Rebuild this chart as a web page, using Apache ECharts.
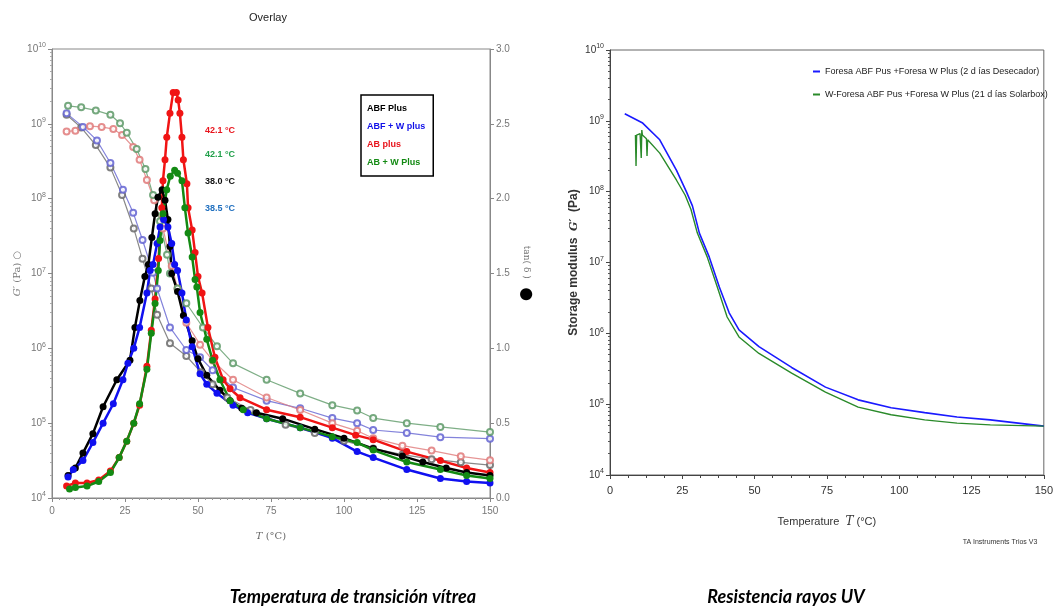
<!DOCTYPE html>
<html>
<head>
<meta charset="utf-8">
<script src="https://cdn.jsdelivr.net/npm/echarts@6/dist/echarts.min.js"></script>
<style>
  html, body { margin: 0; padding: 0; background: #fff; }
  #chart { width: 1056px; height: 609px; }
</style>
</head>
<body>
<div id="chart"></div>
<script>
// ---- left panel (Overlay): storage modulus G' [T, Pa], open circles ----
const abfStorage = [[5,1.32e9],[10,8.9e8],[15,5.2e8],[20,2.6e8],[24,1.12e8],[28,4.0e7],[31,1.58e7],[34,6.3e6],[36,2.8e6],[40.4,1.17e6],[46,7.9e5],[51,4.8e5],[55,3.3e5],[60,2.2e5],[68,1.5e5],[80,9.5e4],[90,7.4e4],[100,5.8e4],[110,4.6e4],[120,3.8e4],[130,3.3e4],[140,3.0e4],[150,2.75e4]];
const abfwStorage = [[5,1.38e9],[10.6,9.1e8],[15.4,6.0e8],[20,3.0e8],[24.3,1.32e8],[27.8,6.5e7],[31,2.8e7],[34.6,1.02e7],[36,6.3e6],[40.4,1.9e6],[46,9.5e5],[50.7,7.6e5],[55,5.1e5],[62,3.0e5],[73.5,2.0e5],[85,1.58e5],[96,1.17e5],[104.5,1.0e5],[110,8.1e4],[121.5,7.4e4],[133,6.5e4],[150,6.2e4]];
const abStorage = [[5,7.9e8],[8,8.1e8],[13,9.3e8],[17,9.1e8],[21,8.5e8],[24,7.1e8],[27.8,4.9e8],[30,3.3e8],[32.5,1.78e8],[35,9.5e7],[38,4.0e7],[41,1.26e7],[43,6.3e6],[46,2.2e6],[50.7,1.12e6],[55,6.9e5],[62,3.8e5],[73.5,2.2e5],[85,1.5e5],[96,1.0e5],[104.5,7.9e4],[110,6.3e4],[120,5.0e4],[130,4.3e4],[140,3.6e4],[150,3.2e4]];
const abwStorage = [[5.5,1.74e9],[10,1.66e9],[15,1.51e9],[20,1.32e9],[23.3,1.02e9],[25.6,7.6e8],[29,4.6e8],[32,2.5e8],[34.6,1.12e8],[37,5.0e7],[39.4,1.78e7],[40.4,1.0e7],[43,6.3e6],[46,4.0e6],[51.7,1.9e6],[56.5,1.07e6],[62,6.3e5],[73.5,3.8e5],[85,2.5e5],[96,1.74e5],[104.5,1.48e5],[110,1.17e5],[121.5,1.0e5],[133,8.9e4],[150,7.6e4]];

// ---- left panel: tan(delta) [T, value], filled circles ----
const abfTan = [[5.5,0.15],[8,0.2],[10.6,0.3],[14,0.43],[17.5,0.61],[22.2,0.79],[26.7,0.92],[28.4,1.14],[30.1,1.32],[31.8,1.48],[33,1.56],[34.2,1.74],[35.3,1.9],[36.3,2.01],[37.7,2.06],[38.7,1.99],[39.7,1.86],[40.4,1.68],[41,1.5],[43,1.38],[45,1.22],[48,1.05],[50,0.93],[53,0.82],[57.5,0.72],[61,0.65],[65,0.6],[70,0.57],[79,0.53],[90,0.46],[100,0.4],[110,0.33],[120,0.28],[127,0.24],[135,0.2],[142,0.17],[150,0.15]];
const abfwTan = [[5.5,0.14],[7.3,0.19],[10.6,0.25],[14,0.37],[17.5,0.5],[21,0.63],[24.3,0.79],[26,0.9],[28,1.0],[30,1.14],[32.5,1.37],[33.6,1.52],[34.6,1.56],[36,1.7],[37,1.81],[38.2,1.86],[39.7,1.81],[41,1.7],[42,1.56],[43,1.52],[44.5,1.37],[46,1.19],[48,1.01],[50.7,0.83],[53,0.76],[56.5,0.7],[62,0.62],[67,0.57],[73.5,0.53],[85,0.47],[96,0.4],[104.5,0.31],[110,0.27],[121.5,0.19],[133,0.13],[142,0.11],[150,0.1]];
const abTan = [[5,0.08],[8,0.1],[12,0.1],[16,0.12],[20,0.18],[23,0.27],[25.6,0.38],[28,0.5],[30,0.62],[32.5,0.88],[34,1.12],[35.3,1.33],[36.5,1.6],[37.6,1.94],[38,2.12],[38.7,2.26],[39.3,2.41],[40.4,2.57],[41.5,2.71],[42.6,2.71],[43.2,2.66],[43.8,2.57],[44.5,2.41],[45,2.26],[46.2,2.1],[46.6,1.94],[48,1.79],[49,1.64],[50,1.48],[51.4,1.37],[53.4,1.14],[55.8,0.94],[58.6,0.79],[61,0.73],[64.4,0.67],[73.5,0.59],[85,0.54],[96,0.47],[104,0.42],[110,0.39],[121.5,0.31],[133,0.25],[142,0.2],[150,0.17]];
const abwTan = [[6,0.06],[8,0.07],[12,0.08],[16,0.11],[20,0.17],[23,0.27],[25.6,0.38],[28,0.5],[30,0.63],[32.5,0.86],[34,1.1],[35.3,1.3],[36.4,1.52],[37,1.72],[38,1.9],[39.3,2.06],[40.5,2.15],[42,2.19],[43,2.17],[44.5,2.12],[45.5,1.94],[46.6,1.77],[48,1.61],[49,1.46],[49.6,1.41],[50.7,1.24],[53,1.06],[55,0.92],[57.5,0.79],[61,0.65],[65.5,0.59],[73.5,0.53],[85,0.47],[96,0.41],[104.5,0.37],[110,0.32],[121.5,0.24],[133,0.19],[142,0.15],[150,0.13]];

// peak labels
const peakLabels = ['42.1 °C', '42.1 °C', '38.0 °C', '38.5 °C'];

// ---- right panel (UV): storage modulus [T, Pa] ----
const desecador = [[5.1,1.26e9],[11.3,9.3e8],[17.2,5.4e8],[23,2.0e8],[26.4,1.0e8],[28.5,6.3e7],[30.9,2.6e7],[34.3,1.2e7],[37.8,4.5e6],[41.2,1.95e6],[44.6,1.12e6],[51.5,6.5e5],[62.8,3.3e5],[74.5,1.74e5],[85.8,1.15e5],[97.2,8.9e4],[108.8,7.6e4],[120,6.6e4],[131.5,6.0e4],[150,4.9e4]];
const solarbox = [[8.8,6.3e8],[9.0,2.3e8],[9.2,6.3e8],[10.4,6.6e8],[10.8,3.0e8],[11.0,7.4e8],[11.2,6.3e8],[12.6,5.6e8],[12.8,3.2e8],[13.0,5.4e8],[17.2,3.5e8],[23,1.45e8],[26,8.9e7],[28,5.6e7],[30.2,2.6e7],[33.6,1.2e7],[37.1,4.5e6],[40.5,1.7e6],[44.6,8.9e5],[51.5,5.2e5],[62.8,2.75e5],[74.5,1.48e5],[85.8,9.1e4],[97.2,7.1e4],[108.8,6.0e4],[120,5.4e4],[131.5,5.1e4],[150,4.9e4]];

const sans = "'Liberation Sans', Arial, sans-serif";

const powLabel = v => '{b|10}{s|' + Math.round(Math.log10(v)) + '}';
const powRich = (c, size) => ({
  b: { fontSize: size, color: c, lineHeight: 14, fontFamily: sans },
  s: { fontSize: 7, color: c, lineHeight: 7, verticalAlign: 'top', fontFamily: sans }
});

const openSeries = (name, data, color) => ({
  name, type: 'line', xAxisIndex: 0, yAxisIndex: 0, data,
  symbol: 'emptyCircle', symbolSize: 6, showAllSymbol: true,
  lineStyle: { color, width: 1.2, opacity: 0.8 },
  itemStyle: { color, borderWidth: 1.2, opacity: 0.85 }
});
const filledSeries = (name, data, color) => ({
  name, type: 'line', xAxisIndex: 0, yAxisIndex: 1, data,
  symbol: 'circle', symbolSize: 7, showAllSymbol: true,
  lineStyle: { color, width: 2.5 },
  itemStyle: { color }
});

const chart = echarts.init(document.getElementById('chart'));

chart.setOption({
  animation: false,
  backgroundColor: '#fff',
  grid: [
    { left: 52, top: 49, width: 438, height: 449, show: true, borderColor: '#888', borderWidth: 1 },
    { left: 610, top: 50, width: 437, height: 425, show: true, borderColor: '#666', borderWidth: 1 }
  ],
  legend: [
    {
      left: 361, top: 95, orient: 'vertical', icon: 'none', itemWidth: 0, itemHeight: 0,
      itemGap: 9, padding: [9, 8, 9, 1], borderColor: '#000', borderWidth: 1.5,
      selectedMode: false,
      textStyle: { fontSize: 9, fontWeight: 'bold', fontFamily: sans },
      data: [
        { name: 'ABF Plus', textStyle: { color: '#000' } },
        { name: 'ABF + W plus', textStyle: { color: '#1010e8' } },
        { name: 'AB plus', textStyle: { color: '#e8141c' } },
        { name: 'AB + W Plus', textStyle: { color: '#138a13' } }
      ]
    },
    {
      left: 808, top: 62, orient: 'vertical', icon: 'rect', itemWidth: 7, itemHeight: 2,
      itemGap: 14, selectedMode: false,
      textStyle: { fontSize: 9, color: '#222', fontFamily: sans },
      data: ['Foresa ABF Pus +Foresa W Plus (2 d ías Desecador)', 'W-Foresa ABF Pus +Foresa W Plus (21 d ías Solarbox)']
    }
  ],
  xAxis: [
    {
      gridIndex: 0, type: 'value', min: 0, max: 150, interval: 25,
      name: '{i|T} (°C)', nameLocation: 'middle', nameGap: 33,
      nameTextStyle: { color: '#666', fontSize: 10, fontFamily: 'DejaVu Serif, serif', rich: { i: { fontStyle: 'italic', fontSize: 10, color: '#666', fontFamily: 'DejaVu Serif, serif' } } },
      axisLine: { lineStyle: { color: '#888' } }, axisTick: { lineStyle: { color: '#888' }, length: 4 },
      minorTick: { show: true, splitNumber: 10, length: 2, lineStyle: { color: '#999' } },
      axisLabel: { color: '#777', fontSize: 10, fontFamily: sans, margin: 8 },
      splitLine: { show: false }
    },
    {
      gridIndex: 1, type: 'value', min: 0, max: 150, interval: 25,
      name: 'Temperature  {i|T} (°C)', nameLocation: 'middle', nameGap: 41,
      nameTextStyle: { color: '#333', fontSize: 11, fontFamily: sans, rich: { i: { fontStyle: 'italic', fontSize: 12, color: '#333', fontFamily: 'DejaVu Serif, serif' } } },
      axisLine: { lineStyle: { color: '#444' } }, axisTick: { lineStyle: { color: '#444' }, length: 4 },
      minorTick: { show: true, splitNumber: 4, length: 3, lineStyle: { color: '#444' } },
      axisLabel: { color: '#333', fontSize: 11, fontFamily: sans, margin: 10 },
      splitLine: { show: false }
    }
  ],
  yAxis: [
    {
      gridIndex: 0, type: 'log', logBase: 10, min: 1e4, max: 1e10,
      name: '{i|G′} (Pa) ○', nameLocation: 'middle', nameGap: 30, nameRotate: 90,
      nameTextStyle: { color: '#777', fontSize: 10, fontFamily: 'DejaVu Serif, serif', rich: { i: { fontStyle: 'italic', fontSize: 10, color: '#777', fontFamily: 'DejaVu Serif, serif' } } },
      axisLine: { show: true, lineStyle: { color: '#888' } }, axisTick: { lineStyle: { color: '#888' }, length: 4 },
      minorTick: { show: true, splitNumber: 9, length: 2, lineStyle: { color: '#aaa' } },
      axisLabel: { formatter: powLabel, rich: powRich('#777', 10), margin: 6 },
      splitLine: { show: false }, minorSplitLine: { show: false }
    },
    {
      gridIndex: 0, type: 'value', min: 0, max: 3, interval: 0.5, position: 'right',
      name: 'tan( δ )   {d|●}', nameLocation: 'middle', nameGap: 28, nameRotate: -90,
      nameTextStyle: { color: '#777', fontSize: 9, fontFamily: 'DejaVu Serif, serif', rich: { d: { fontSize: 16, color: '#000' } } },
      axisLine: { show: true, lineStyle: { color: '#888' } }, axisTick: { lineStyle: { color: '#888' }, length: 4 },
      axisLabel: { color: '#777', fontSize: 10, fontFamily: sans, formatter: v => v.toFixed(1), margin: 6 },
      splitLine: { show: false }
    },
    {
      gridIndex: 1, type: 'log', logBase: 10, min: 1e4, max: 1e10,
      name: 'Storage modulus  {i|G′}  (Pa)', nameLocation: 'middle', nameGap: 30, nameRotate: 90,
      nameTextStyle: { color: '#333', fontSize: 12, fontWeight: 'bold', fontFamily: sans, rich: { i: { fontStyle: 'italic', fontSize: 11, color: '#333', fontFamily: 'DejaVu Serif, serif' } } },
      axisLine: { show: true, lineStyle: { color: '#444' } }, axisTick: { lineStyle: { color: '#444' }, length: 4 },
      minorTick: { show: true, splitNumber: 9, length: 2, lineStyle: { color: '#555' } },
      axisLabel: { formatter: powLabel, rich: powRich('#333', 10), margin: 6 },
      splitLine: { show: false }, minorSplitLine: { show: false }
    }
  ],
  series: [
    openSeries('ABF Plus', abfStorage, '#6a6a6a'),
    openSeries('ABF + W plus', abfwStorage, '#6464d2'),
    openSeries('AB plus', abStorage, '#e07a7a'),
    openSeries('AB + W Plus', abwStorage, '#5e9a68'),
    filledSeries('AB plus', abTan, '#f01414'),
    filledSeries('ABF Plus', abfTan, '#000000'),
    filledSeries('ABF + W plus', abfwTan, '#1010f0'),
    filledSeries('AB + W Plus', abwTan, '#138a13'),
    {
      name: 'Foresa ABF Pus +Foresa W Plus (2 d ías Desecador)', type: 'line',
      xAxisIndex: 1, yAxisIndex: 2, data: desecador, showSymbol: false,
      lineStyle: { color: '#1a1aff', width: 1.6 }, itemStyle: { color: '#1a1aff' }
    },
    {
      name: 'W-Foresa ABF Pus +Foresa W Plus (21 d ías Solarbox)', type: 'line',
      xAxisIndex: 1, yAxisIndex: 2, data: solarbox, showSymbol: false,
      lineStyle: { color: '#2a8a2a', width: 1.4 }, itemStyle: { color: '#2a8a2a' }
    }
  ],
  graphic: [
    { type: 'text', x: 268, y: 18, style: { text: 'Overlay', fill: '#222', font: '11px ' + sans, textAlign: 'center', textVerticalAlign: 'middle' } },
    { type: 'text', x: 205, y: 131, style: { text: peakLabels[0], fill: '#e8141c', font: 'bold 9px ' + sans, textVerticalAlign: 'middle' } },
    { type: 'text', x: 205, y: 155, style: { text: peakLabels[1], fill: '#21a04a', font: 'bold 9px ' + sans, textVerticalAlign: 'middle' } },
    { type: 'text', x: 205, y: 182, style: { text: peakLabels[2], fill: '#111', font: 'bold 9px ' + sans, textVerticalAlign: 'middle' } },
    { type: 'text', x: 205, y: 209, style: { text: peakLabels[3], fill: '#1f6fbf', font: 'bold 9px ' + sans, textVerticalAlign: 'middle' } },
    { type: 'text', x: 1000, y: 542, style: { text: 'TA Instruments Trios V3', fill: '#333', font: '7px ' + sans, textAlign: 'center', textVerticalAlign: 'middle' } },
    { type: 'text', x: 353, y: 597, style: { text: 'Temperatura de transición vítrea', fill: '#000', font: 'italic bold 18px Lato, sans-serif', textAlign: 'center', textVerticalAlign: 'middle' } },
    { type: 'text', x: 786, y: 597, style: { text: 'Resistencia rayos UV', fill: '#000', font: 'italic bold 18px Lato, sans-serif', textAlign: 'center', textVerticalAlign: 'middle' } }
  ]
});
</script>
</body>
</html>
